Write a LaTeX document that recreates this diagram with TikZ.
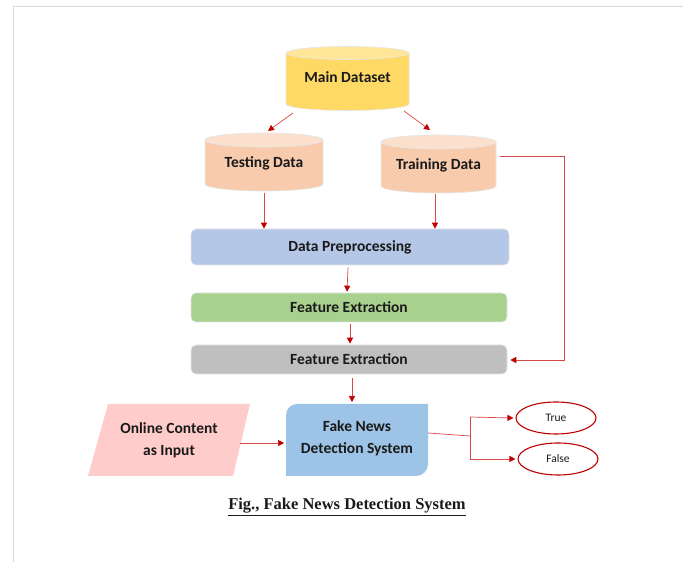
\documentclass[tikz,border=0pt]{standalone}
\usepackage{fontspec}
\setmainfont{Carlito}
\newfontfamily\capfont{Liberation Serif}
\usetikzlibrary{arrows.meta,shapes.geometric}
\definecolor{arr}{HTML}{D84848}
\definecolor{tip}{HTML}{C00000}
\definecolor{mainbody}{HTML}{FFD966}
\definecolor{maintop}{HTML}{FFE699}
\definecolor{subbody}{HTML}{F8CBAD}
\definecolor{subtop}{HTML}{FBE0CE}
\definecolor{prep}{HTML}{B4C7E7}
\definecolor{feat}{HTML}{A9D18E}
\definecolor{feat2}{HTML}{BFBFBF}
\definecolor{fake}{HTML}{9DC3E6}
\definecolor{online}{HTML}{FFCCCC}
\definecolor{edge}{HTML}{E6E6E6}
\definecolor{txt}{HTML}{1A1A1A}
\newcommand{\dbcyl}[7]{%
  \fill[#6,draw=edge,line width=0.6pt] (#1-#4,#2) -- (#1-#4,#3) arc[start angle=180,end angle=360,x radius=#4,y radius=#5] -- (#1+#4,#2) -- cycle;
  \fill[#7,draw=edge,line width=0.6pt] (#1,#2) ellipse[x radius=#4,y radius=#5];}
\tikzset{
  conn/.style={draw=arr,line width=0.7pt,-{Triangle[length=6pt,width=6pt,color=tip]}},
  plain/.style={draw=arr,line width=0.7pt},
  lbl/.style={font=\fontsize{15.5}{22}\selectfont\bfseries,text=txt,align=center,inner sep=0pt},
  boxstyle/.style={rounded corners=5pt,draw=edge,line width=0.6pt,minimum height=#1,inner sep=0pt,text=txt,font=\fontsize{15.5}{18}\selectfont\bfseries},
  outc/.style={ellipse,draw=tip,line width=1.1pt,minimum width=80pt,minimum height=32pt,inner sep=0pt,text=txt,font=\fontsize{11.5}{14}\selectfont}
}
\begin{document}
\begin{tikzpicture}[x=1pt,y=1pt]
\useasboundingbox (0,0) rectangle (683,562);
\fill[white] (0,0) rectangle (683,562);
% page border
\draw[draw=black!15,line width=0.8pt] (683,556) -- (13.5,556) -- (13.5,0);
% cylinders
\dbcyl{347.5}{509}{458}{61.5}{6.5}{mainbody}{maintop}
\node[lbl] (main) at (347.5,485) {Main Dataset};
\dbcyl{264}{422}{378}{59}{7}{subbody}{subtop}
\node[lbl] (test) at (264,399) {Testing Data};
\dbcyl{438.5}{420}{376}{57.5}{7}{subbody}{subtop}
\node[lbl] (train) at (438.5,397) {Training Data};
\coordinate (mainL) at (293,449);
\coordinate (mainR) at (404,451);
\coordinate (testT) at (268,431);
\coordinate (trainT) at (430,432);
\coordinate (testB) at (264,369);
\coordinate (trainB) at (435,368);
\coordinate (trainE) at (500,406);
\coordinate (loopA) at (564,406);
\coordinate (loopB) at (564,202);
% boxes
\node[boxstyle=36pt,fill=prep,minimum width=318pt] (prep) at (350,315) {Data Preprocessing};
\node[boxstyle=29pt,fill=feat,minimum width=316pt] (feat) at (349,254.5) {Feature Extraction};
\node[boxstyle=29pt,fill=feat2,minimum width=316pt] (feat2) at (349,202.5) {Feature Extraction};
% fake news box
\fill[fake] (286,86) -- (286,147) arc[start angle=180,end angle=90,radius=11] -- (428,158) -- (428,98) arc[start angle=0,end angle=-90,radius=12] -- cycle;
\node[lbl] (fake) at (357,124) {Fake News\\Detection System};
% online content
\fill[online] (108,158) -- (250,158) -- (233,86) -- (88,86) -- cycle;
\node[lbl] (online) at (169,122) {Online Content\\as Input};
\coordinate (onE) at (240,119);
\coordinate (fakeW) at (284,119);
\coordinate (fakeE) at (428,129);
\coordinate (jn) at (470,126);
\coordinate (jt) at (470,145);
\coordinate (jb) at (470,103);
% outcomes
\node[outc] (true) at (556,144) {True};
\node[outc] (false) at (558,103) {False};
% connectors
\draw[conn] (mainL) -- (testT);
\draw[conn] (mainR) -- (trainT);
\draw[conn] (testB) -- (testB |- prep.north);
\draw[conn] (trainB) -- (trainB |- prep.north);
\draw[conn] (trainE) -- (loopA) -- (loopB) -- ([xshift=3pt]feat2.east |- loopB);
\draw[conn] ([xshift=-2pt,yshift=-2pt]prep.south) -- ([xshift=-2pt,yshift=1pt]feat.north);
\draw[conn] ([xshift=1pt,yshift=-2pt]feat.south) -- ([xshift=1pt,yshift=1pt]feat2.north);
\draw[conn] ([xshift=3pt,yshift=-4pt]feat2.south) -- (352,160);
\draw[conn] (onE) -- (fakeW);
\draw[plain] (fakeE) -- (jn);
\draw[plain] (jt) -- (jb);
\draw[conn] (jt) -- ([xshift=-2pt]true.west);
\draw[conn] (jb) -- ([xshift=-2pt]false.west);
% caption
\node[font=\capfont\fontsize{16.5}{18}\selectfont\bfseries,text=txt,inner sep=0pt] (cap) at (347,55) {\underline{Fig., Fake News Detection System}};
\end{tikzpicture}
\end{document}
